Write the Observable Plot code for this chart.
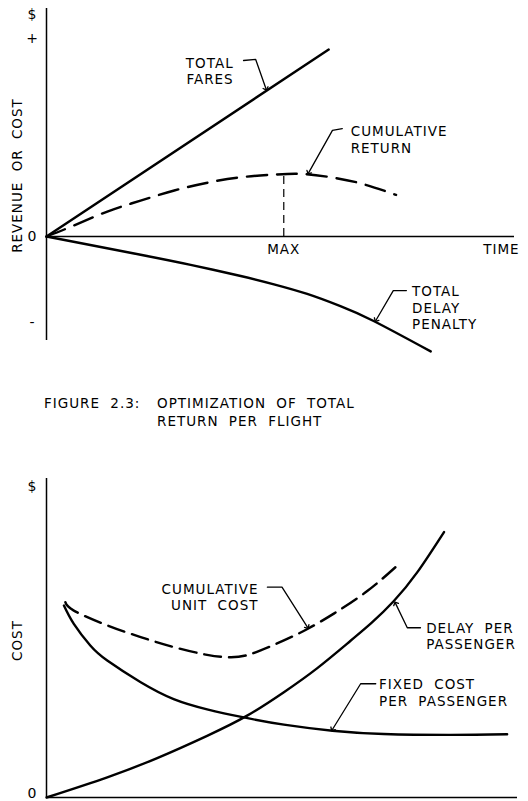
<!DOCTYPE html>
<html><head><meta charset="utf-8">
<script src="https://cdn.jsdelivr.net/npm/d3@7"></script>
<script src="https://cdn.jsdelivr.net/npm/@observablehq/plot@0.6"></script>
<style>
html,body{margin:0;padding:0;background:#fff;overflow:hidden;}
body{width:528px;height:801px;font-family:"DejaVu Sans",sans-serif;color:#000;}
#caption{height:95px;box-sizing:border-box;padding-top:29px;padding-left:44px;display:flex;font-size:13.5px;letter-spacing:1px;word-spacing:5px;line-height:18px;}
#caption .num{width:113px;flex:none;}
svg{display:block}
</style></head><body>
<div id="top"></div>
<div id="caption"><div class="num">FIGURE 2.3:</div><div>OPTIMIZATION OF TOTAL<br>RETURN PER FLIGHT</div></div>
<div id="bottom"></div>
<script>
// ---------- Top panel: revenue or cost vs time ----------
const fareTime = [0, 6.03];
const fareValue = [0, 7.19];
const returnTime = [0, 0.58, 1.30, 2.01, 2.73, 3.44, 4.15, 4.86, 5.43, 6.07, 6.74, 7.47];
const returnValue = [0, 0.42, 0.96, 1.38, 1.77, 2.07, 2.28, 2.38, 2.41, 2.28, 2.03, 1.60];
const penaltyTime = [0, 2.01, 3.08, 4.15, 4.86, 5.57, 6.28, 6.99, 8.21];
const penaltyValue = [0, -0.70, -1.09, -1.52, -1.84, -2.21, -2.68, -3.25, -4.42];
const maxTime = 5.07, maxValue = 2.39;

const topTickValues = [8.54, 7.63, 0, -3.3];
const topTickLabels = ["$", "+", "0", "-"];
const topAxisLabel = "REVENUE OR COST";
const topXLabels = ["MAX", "TIME"];
const topXLabelTime = [5.07, 9.72];

const topNoteText = ["TOTAL\nFARES", "CUMULATIVE\nRETURN", "TOTAL\nDELAY\nPENALTY"];
const topNoteTime = [4.0, 6.50, 7.81];
const topNoteValue = [6.37, 3.75, -2.72];
const topNoteAnchor = ["end", "start", "start"];

const topLeaderId = ["f","f","f","r","r","r","p","p","p"];
const topLeaderTime = [4.21, 4.47, 4.69, 6.32, 6.11, 5.60, 7.69, 7.41, 7.04];
const topLeaderValue = [6.77, 6.81, 5.68, 4.15, 4.08, 2.45, -2.08, -2.08, -3.22];

// ---------- Bottom panel: cost per passenger ----------
const fixedTime = [0.37, 0.58, 0.93, 1.29, 2.00, 2.70, 3.41, 4.19, 5.04, 6.07, 7.16, 8.58, 9.78];
const fixedCost = [6.38, 5.77, 5.05, 4.55, 3.83, 3.27, 2.93, 2.66, 2.42, 2.22, 2.11, 2.08, 2.10];
const delayTime = [0, 1.29, 2.35, 3.41, 4.26, 5.04, 5.75, 6.45, 6.90, 7.37, 7.87, 8.44];
const delayCost = [0, 0.67, 1.31, 2.05, 2.72, 3.50, 4.30, 5.20, 5.80, 6.52, 7.48, 8.82];
const unitTime = [0.40, 0.58, 1.29, 2.00, 2.70, 3.41, 3.91, 4.36, 5.04, 5.54, 6.10, 6.81, 7.45];
const unitCost = [6.49, 6.21, 5.72, 5.33, 5.00, 4.74, 4.66, 4.78, 5.22, 5.60, 6.11, 6.86, 7.71];

const botTickValues = [10.34, 0];
const botTickLabels = ["$", "0"];
const botAxisLabel = "COST";

const botNoteText = ["CUMULATIVE\nUNIT COST", "DELAY PER\nPASSENGER", "FIXED COST\nPER PASSENGER"];
const botNoteTime = [4.50, 8.06, 7.06];
const botNoteValue = [6.68, 5.37, 3.50];
const botNoteAnchor = ["end", "start", "start"];

const botLeaderId = ["u","u","u","d","d","d","x","x","x"];
const botLeaderTime = [4.69, 5.00, 5.54, 7.94, 7.66, 7.41, 6.99, 6.67, 6.07];
const botLeaderValue = [6.99, 6.99, 5.66, 5.64, 5.64, 6.45, 3.78, 3.78, 2.26];

// ---------- helpers ----------
const zipXY = (xs, ys) => xs.map((x, i) => ({x, y: ys[i]}));
const notes = (t, xs, ys, a) => t.map((text, i) => ({text, x: xs[i], y: ys[i], anchor: a[i]}));
const leaders = (id, xs, ys) => id.map((k, i) => ({k, x: xs[i], y: ys[i]}));
const font = '"DejaVu Sans", sans-serif';
const style = {fontFamily: font, fontSize: "13.5px", background: "white", color: "black", letterSpacing: "1px", wordSpacing: "5px", overflow: "visible"};

function noteMarks(data) {
  return ["start", "end"].map(a => Plot.text(data.filter(d => d.anchor === a), {
    x: "x", y: "y", text: "text", textAnchor: a, lineAnchor: "middle",
    lineHeight: 1.22, fontSize: 13.5, fill: "black"
  }));
}

// ---------- top chart ----------
const topMap = new Map(topTickValues.map((v, i) => [v, topTickLabels[i]]));
const topChart = Plot.plot({
  width: 528, height: 365,
  marginLeft: 46, marginRight: 14, marginTop: 8, marginBottom: 12,
  x: {domain: [0, 10], axis: null},
  y: {domain: [-4.5, 8.77]},
  style,
  marks: [
    Plot.ruleX([0], {y1: -4, y2: 8.77, stroke: "black", strokeWidth: 1.5}),
    Plot.ruleY([0], {x1: 0, x2: 10, stroke: "black", strokeWidth: 1.5}),
    Plot.axisY({ticks: topTickValues, tickFormat: d => topMap.get(d), tickSize: 0, tickPadding: 14, textAnchor: "middle", fontSize: 14, label: null}),
    Plot.text([topAxisLabel], {frameAnchor: "left", textAnchor: "middle", rotate: -90, dx: -29, dy: -5.5, fontSize: 13.5, fill: "black"}),
    Plot.text(topXLabels.map((t, i) => ({t, x: topXLabelTime[i]})), {x: "x", y: 0, text: "t", dy: 13, fontSize: 13.5, fill: "black"}),
    Plot.ruleX([maxTime], {y1: 0, y2: maxValue, stroke: "black", strokeWidth: 1.2, strokeDasharray: "8,5"}),
    Plot.line(zipXY(fareTime, fareValue), {x: "x", y: "y", stroke: "black", strokeWidth: 2.4}),
    Plot.line(zipXY(returnTime, returnValue), {x: "x", y: "y", stroke: "black", strokeWidth: 2.4, strokeDasharray: "20,10", curve: "natural"}),
    Plot.line(zipXY(penaltyTime, penaltyValue), {x: "x", y: "y", stroke: "black", strokeWidth: 2.4, curve: "natural"}),
    Plot.line(leaders(topLeaderId, topLeaderTime, topLeaderValue), {x: "x", y: "y", z: "k", stroke: "black", strokeWidth: 1.3, markerEnd: "arrow"}),
    ...noteMarks(notes(topNoteText, topNoteTime, topNoteValue, topNoteAnchor))
  ]
});
document.getElementById("top").appendChild(topChart);

// ---------- bottom chart ----------
const botMap = new Map(botTickValues.map((v, i) => [v, botTickLabels[i]]));
const botChart = Plot.plot({
  width: 528, height: 341,
  marginLeft: 46, marginRight: 11, marginTop: 18, marginBottom: 4,
  x: {domain: [0, 10], axis: null},
  y: {domain: [0, 10.6]},
  style,
  marks: [
    Plot.ruleX([0], {y1: 0, y2: 10.6, stroke: "black", strokeWidth: 1.5}),
    Plot.ruleY([0], {x1: 0, x2: 10, stroke: "black", strokeWidth: 1.5}),
    Plot.axisY({ticks: botTickValues.slice(0, 1), tickFormat: d => botMap.get(d), tickSize: 0, tickPadding: 14, textAnchor: "middle", fontSize: 14, label: null}),
    Plot.axisY({ticks: botTickValues.slice(1), tickFormat: d => botMap.get(d), tickSize: 0, tickPadding: 14, textAnchor: "middle", fontSize: 14, dy: -4, label: null}),
    Plot.text([botAxisLabel], {frameAnchor: "left", textAnchor: "middle", rotate: -90, dx: -29, dy: 2.5, fontSize: 13.5, fill: "black"}),
    Plot.line(zipXY(fixedTime, fixedCost), {x: "x", y: "y", stroke: "black", strokeWidth: 2.4, curve: "natural"}),
    Plot.line(zipXY(delayTime, delayCost), {x: "x", y: "y", stroke: "black", strokeWidth: 2.4, curve: "natural"}),
    Plot.line(zipXY(unitTime, unitCost), {x: "x", y: "y", stroke: "black", strokeWidth: 2.4, strokeDasharray: "17,8", curve: "natural"}),
    Plot.line(leaders(botLeaderId, botLeaderTime, botLeaderValue), {x: "x", y: "y", z: "k", stroke: "black", strokeWidth: 1.3, markerEnd: "arrow"}),
    ...noteMarks(notes(botNoteText, botNoteTime, botNoteValue, botNoteAnchor))
  ]
});
document.getElementById("bottom").appendChild(botChart);
</script></body></html>
